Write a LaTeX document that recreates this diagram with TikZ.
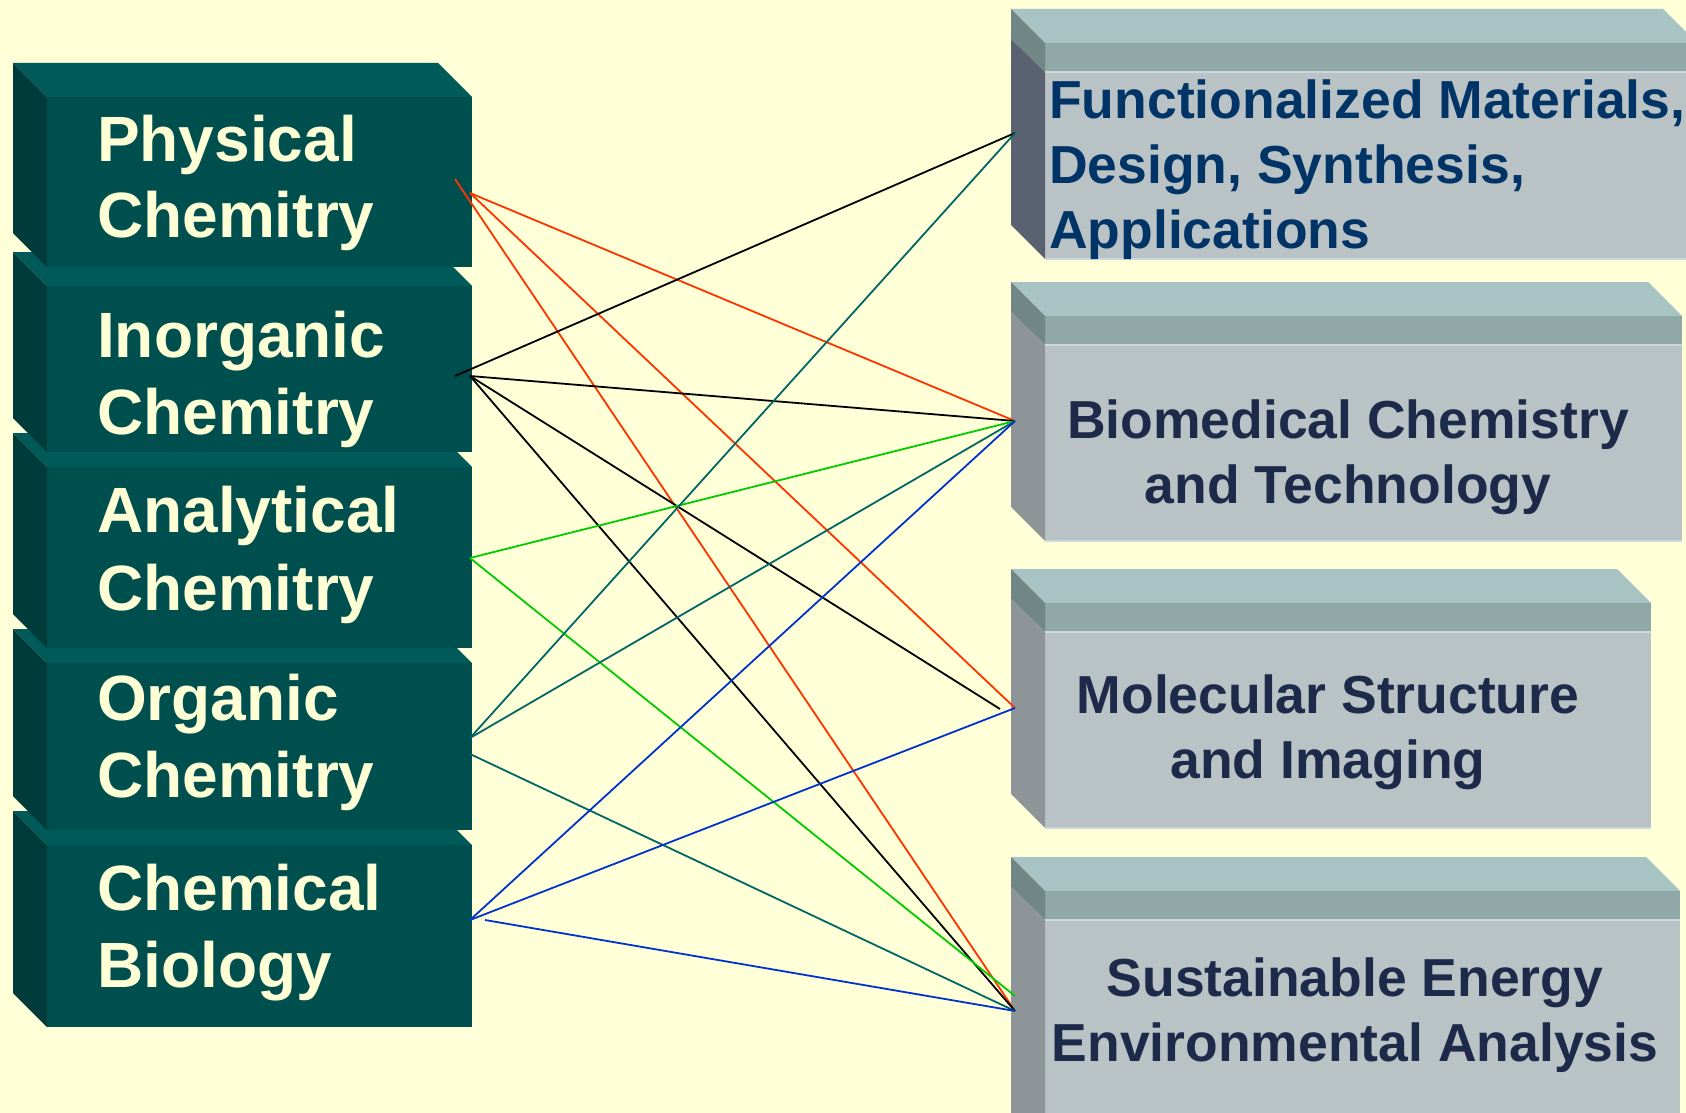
\documentclass[tikz,border=0pt]{standalone}
\usepackage{fontspec}
\setmainfont{Liberation Sans}
\definecolor{bg}{HTML}{FFFFD8}
\definecolor{lfront}{HTML}{004F4F}
\definecolor{ltop}{HTML}{005A5A}
\definecolor{lside}{HTML}{003B3B}
\definecolor{ltxt}{HTML}{FFFFD6}
\definecolor{rtop}{HTML}{A8C3C4}
\definecolor{rband}{HTML}{91A8A9}
\definecolor{rfront}{HTML}{B9C2C4}
\definecolor{rsideup}{HTML}{718785}
\definecolor{rside}{HTML}{8D9598}
\definecolor{rsideone}{HTML}{5A6272}
\definecolor{rhigh}{HTML}{CADADC}
\definecolor{navyone}{HTML}{003366}
\definecolor{navy}{HTML}{1E2A4A}
\definecolor{cred}{HTML}{FF3300}
\definecolor{cgreen}{HTML}{00CC00}
\definecolor{cteal}{HTML}{006666}
\definecolor{cblue}{HTML}{0033CC}
\newcommand\lboxdraw[2]{%
  \fill[ltop] (13,#1) -- (438,#1) -- (472,#1+34) -- (47,#1+34) -- cycle;
  \fill[lside] (13,#1) -- (47,#1+34) -- (47,#2) -- (13,#2-34) -- cycle;
  \fill[lfront] (47,#1+34) rectangle (472,#2);
}
\newcommand\rboxdraw[4]{%
  \fill[rtop] (1011,#1) -- (#3-34,#1) -- (#3,#1+34) -- (1045,#1+34) -- cycle;
  \fill[rband] (1045,#1+34) rectangle (#3,#1+63);
  \fill[rfront] (1045,#1+63) rectangle (#3,#2);
  \fill[rsideup] (1011,#1) -- (1045,#1+34) -- (1045,#1+63) -- (1011,#1+30) -- cycle;
  \fill[#4] (1011,#1+30) -- (1045,#1+63) -- (1045,#2) -- (1011,#2-34) -- cycle;
  \draw[rhigh, line width=1.5pt] (1045,#1+63) -- (#3,#1+63);
  \draw[rhigh, line width=1.5pt] (1045,#2) -- (#3,#2);
}
\begin{document}
\begin{tikzpicture}[x=1pt,y=-1pt,
  ltext/.style={text=ltxt, font=\fontsize{64}{77}\selectfont\bfseries, anchor=base west, inner sep=0pt},
  rtext/.style={font=\fontsize{53.5}{64}\selectfont\bfseries, inner sep=0pt},
  conn/.style={line width=1.8pt}]
\useasboundingbox (0,0) rectangle (1686,1113);
\clip (0,0) rectangle (1686,1113);
\fill[bg] (0,0) rectangle (1686,1113);

% left boxes (bottom first)
\lboxdraw{811}{1027}
\lboxdraw{629}{830}
\lboxdraw{433}{648}
\lboxdraw{252}{452}
\lboxdraw{63}{267}

% right boxes
\rboxdraw{9}{259}{1697}{rsideone}
\rboxdraw{282}{541}{1682}{rside}
\rboxdraw{569}{828}{1651}{rside}
\rboxdraw{857}{1160}{1680}{rside}

% left texts
\node[ltext] (pa) at (97,161) {Physical};
\node[ltext] (pb) at (97,237) {Chemitry};
\node[ltext] (ia) at (97,357) {Inorganic};
\node[ltext] (ib) at (97,434) {Chemitry};
\node[ltext] (aa) at (97,532) {Analytical};
\node[ltext] (ab) at (97,610) {Chemitry};
\node[ltext] (oa) at (97,720) {Organic};
\node[ltext] (ob) at (97,797) {Chemitry};
\node[ltext] (ca) at (97,910) {Chemical};
\node[ltext] (cb) at (97,987) {Biology};

% right texts
\node[rtext, text=navyone, anchor=base west] (fa) at (1049,119) {Functionalized Materials,};
\node[rtext, text=navyone, anchor=base west] (fb) at (1049,183) {Design, Synthesis,};
\node[rtext, text=navyone, anchor=base west] (fc) at (1049,248) {Applications};
\node[rtext, text=navy, anchor=base] (ba) at (1348,438) {Biomedical Chemistry};
\node[rtext, text=navy, anchor=base] (bb) at (1348,503) {and Technology};
\node[rtext, text=navy, anchor=base] (ma) at (1328,713) {Molecular Structure};
\node[rtext, text=navy, anchor=base] (mb) at (1328,778) {and Imaging};
\node[rtext, text=navy, anchor=base] (sa) at (1355,996) {Sustainable Energy};
\node[rtext, text=navy, anchor=base] (sb) at (1355,1061) {Environmental Analysis};

% connector end points
\coordinate (pA1) at (455,179);
\coordinate (pA2) at (470,193);
\coordinate (pB1) at (455,376);
\coordinate (pB2) at (470,376);
\coordinate (pC) at (470,558);
\coordinate (pD1) at (470,738);
\coordinate (pD2) at (470,754);
\coordinate (pE1) at (470,920);
\coordinate (pE2) at (485,920);
\coordinate (qF) at (1015,133);
\coordinate (qB) at (1015,421);
\coordinate (qM) at (1015,708);
\coordinate (qMb) at (1000,709);
\coordinate (qS1) at (1015,996);
\coordinate (qS2) at (1015,1011);

% connectors
\draw[conn, cred] (pA1) -- (qS2);
\draw[conn, cred] (pA2) -- (qB);
\draw[conn, cred] (pA2) -- (qM);
\draw[conn, black] (pB1) -- (qF);
\draw[conn, black] (pB2) -- (qB);
\draw[conn, black] (pB2) -- (qMb);
\draw[conn, black] (pB2) -- (qS2);
\draw[conn, cgreen] (pC) -- (qB);
\draw[conn, cgreen] (pC) -- (qS1);
\draw[conn, cteal] (pD1) -- (qF);
\draw[conn, cteal] (pD1) -- (qB);
\draw[conn, cteal] (pD2) -- (qS2);
\draw[conn, cblue] (pE1) -- (qB);
\draw[conn, cblue] (pE1) -- (qM);
\draw[conn, cblue] (pE2) -- (qS2);
\end{tikzpicture}
\end{document}
